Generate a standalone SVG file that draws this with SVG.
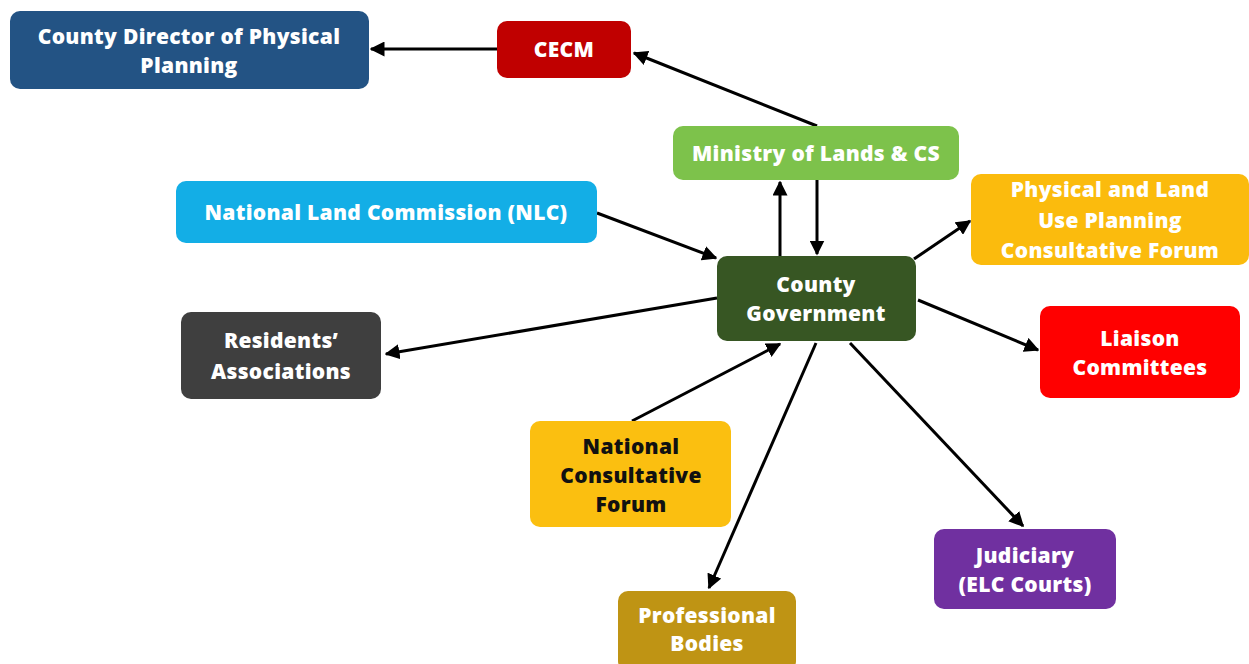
<svg xmlns="http://www.w3.org/2000/svg" width="1249" height="664" viewBox="0 0 1249 664">
<style>
.n rect{rx:10px;ry:10px;}
text{font-family:"Open Sans",Lato,"Liberation Sans",sans-serif;font-weight:800;font-size:21px;letter-spacing:0.3px;fill:#fff;text-anchor:middle;}
text.dk{fill:#111;}
.c line{stroke:#000;stroke-width:3;marker-end:url(#ah);}
</style>
<defs>
<marker id="ah" viewBox="0 0 10 10" refX="9" refY="5" markerWidth="5" markerHeight="5" orient="auto-start-reverse" markerUnits="strokeWidth">
<path d="M0,0 L10,5 L0,10 z" fill="#000"/>
</marker>
</defs>
<rect width="1249" height="664" fill="#fff"/>
<g class="c">
<line x1="497" y1="49" x2="371" y2="49"/>
<line x1="817" y1="126" x2="634" y2="53"/>
<line x1="780" y1="256" x2="780" y2="182"/>
<line x1="817" y1="180" x2="817" y2="254"/>
<line x1="597" y1="213" x2="716" y2="258"/>
<line x1="914" y1="259" x2="970" y2="221"/>
<line x1="717" y1="298" x2="386" y2="354"/>
<line x1="918" y1="300" x2="1038" y2="350"/>
<line x1="632" y1="421" x2="780" y2="344"/>
<line x1="816" y1="343" x2="709" y2="588"/>
<line x1="850" y1="343" x2="1023" y2="526"/>
</g>
<g id="director" class="n"><rect x="10" y="11" width="359" height="78" fill="#235384"/><text x="189" y="44">County Director of Physical</text><text x="189" y="73">Planning</text></g>
<g id="cecm" class="n"><rect x="497" y="21" width="134" height="57" fill="#c00000"/><text x="564" y="57">CECM</text></g>
<g id="ministry" class="n"><rect x="673" y="126" width="286" height="54" fill="#7dc24b"/><text x="816" y="161">Ministry of Lands &amp; CS</text></g>
<g id="nlc" class="n"><rect x="176" y="181" width="421" height="62" fill="#13aee6"/><text x="386" y="220">National Land Commission (NLC)</text></g>
<g id="physical" class="n"><rect x="971" y="174" width="278" height="91" fill="#fbbb0d"/><text x="1110" y="197">Physical and Land</text><text x="1110" y="228">Use Planning</text><text x="1110" y="258">Consultative Forum</text></g>
<g id="county" class="n"><rect x="717" y="256" width="199" height="85" fill="#375623"/><text x="816" y="292">County</text><text x="816" y="321">Government</text></g>
<g id="residents" class="n"><rect x="181" y="312" width="200" height="87" fill="#3f3f3f"/><text x="281" y="348">Residents’</text><text x="281" y="379">Associations</text></g>
<g id="liaison" class="n"><rect x="1040" y="306" width="200" height="92" fill="#ff0000"/><text x="1140" y="346">Liaison</text><text x="1140" y="375">Committees</text></g>
<g id="ncf" class="n"><rect x="530" y="421" width="201" height="106" fill="#fbbf10"/><text class="dk" x="631" y="454">National</text><text class="dk" x="631" y="483">Consultative</text><text class="dk" x="631" y="512">Forum</text></g>
<g id="professional" class="n"><rect x="618" y="591" width="178" height="80" fill="#bf9414"/><text x="707" y="623">Professional</text><text x="707" y="651">Bodies</text></g>
<g id="judiciary" class="n"><rect x="934" y="529" width="182" height="80" fill="#7030a0"/><text x="1025" y="563">Judiciary</text><text x="1025" y="592">(ELC Courts)</text></g>
</svg>
